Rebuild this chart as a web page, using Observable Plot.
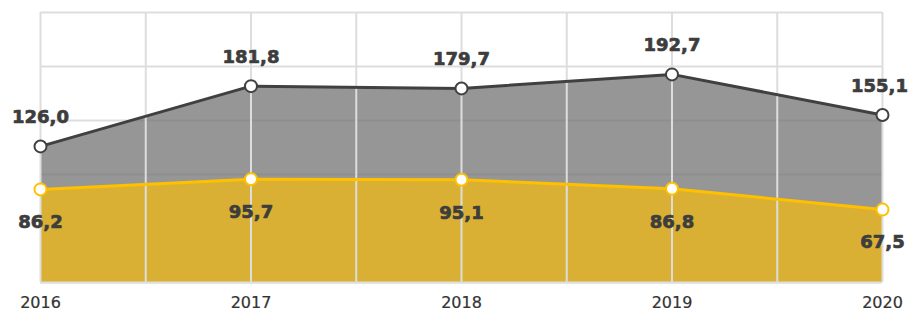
<!DOCTYPE html>
<html>
<head>
<meta charset="utf-8">
<script src="https://cdn.jsdelivr.net/npm/d3@7"></script>
<script src="https://cdn.jsdelivr.net/npm/@observablehq/plot@0.6"></script>
<style>
  html, body { margin: 0; padding: 0; background: #fff; }
  g[aria-label="x-axis tick label"] text, g[aria-label="x-axis"] text { stroke: #333; stroke-width: 0.2px; }
</style>
</head>
<body>
<div id="chart"></div>
<script>
const years = [2016, 2017, 2018, 2019, 2020];
const totalValues = [126.0, 181.8, 179.7, 192.7, 155.1];
const partValues = [86.2, 95.7, 95.1, 86.8, 67.5];
const yGrid = [0, 50, 100, 150, 200, 250];
const xGrid = [2016, 2016.5, 2017, 2017.5, 2018, 2018.5, 2019, 2019.5, 2020];

const rows = years.map((year, i) => ({year, total: totalValues[i], part: partValues[i]}));
const fmt = v => v.toFixed(1).replace(".", ",");
const lastYear = years[years.length - 1];
const labelStyle = {fontSize: 18, fontWeight: "bold", fill: "#3d3d3d", stroke: "#3d3d3d", strokeWidth: 0.7};

const chart = Plot.plot({
  width: 909,
  height: 312,
  marginLeft: 40,
  marginRight: 27,
  marginTop: 12,
  marginBottom: 30,
  style: {fontFamily: "DejaVu Sans", fontSize: "16px", color: "#333", background: "#fff", overflow: "visible"},
  x: {domain: [2016, 2020], ticks: years, tickSize: 0, tickPadding: 14, tickFormat: d => String(d), label: null},
  y: {domain: [0, 250], axis: null},
  marks: [
    Plot.ruleY(yGrid, {stroke: "#dddddd", strokeWidth: 2}),
    Plot.areaY(rows, {x: "year", y: "total", fill: "#767676", fillOpacity: 0.765}),
    Plot.areaY(rows, {x: "year", y: "part", fill: "#D9B033"}),
    Plot.ruleX(xGrid, {stroke: "#dddddd", strokeWidth: 2}),
    Plot.ruleY([0], {stroke: "#dddddd", strokeWidth: 2}),
    Plot.lineY(rows, {x: "year", y: "total", stroke: "#404040", strokeWidth: 3}),
    Plot.lineY(rows, {x: "year", y: "part", stroke: "#FFC000", strokeWidth: 3}),
    Plot.dot(rows, {x: "year", y: "total", r: 6, fill: "#fff", stroke: "#404040", strokeWidth: 2}),
    Plot.dot(rows, {x: "year", y: "part", r: 6, fill: "#fff", stroke: "#FFC000", strokeWidth: 2}),
    Plot.text(rows.filter(d => d.year !== lastYear), {x: "year", y: "total", text: d => fmt(d.total), dy: -29, ...labelStyle}),
    Plot.text(rows.filter(d => d.year === lastYear), {x: "year", y: "total", text: d => fmt(d.total), dy: -29, dx: -3, ...labelStyle}),
    Plot.text(rows, {x: "year", y: "part", text: d => fmt(d.part), dy: 33, ...labelStyle})
  ]
});
document.getElementById("chart").appendChild(chart);
</script>
</body>
</html>
